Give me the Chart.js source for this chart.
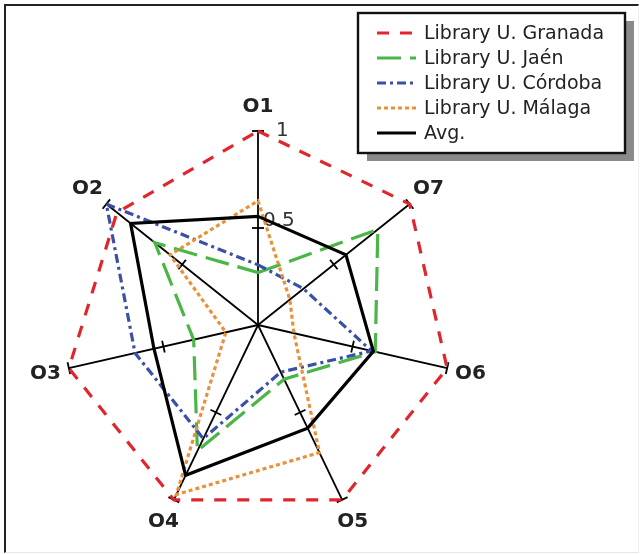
<!DOCTYPE html>
<html>
<head>
<meta charset="utf-8">
<script src="https://cdn.jsdelivr.net/npm/chart.js@4.4.1/dist/chart.umd.min.js"></script>
<style>
  html, body { margin: 0; padding: 0; background: #fff; }
  #wrap { position: relative; width: 642px; height: 554px; }
  #frame {
    position: absolute; left: 4px; top: 4px; width: 632px; height: 546px;
    border-left: 2px solid #222; border-top: 2px solid #222;
    border-right: 1px solid #f0f0f0; border-bottom: 1px solid #e8e8e8;
  }
  #radar { position: absolute; left: 0; top: 0; }
</style>
</head>
<body>
<div id="wrap">
  <div id="frame"></div>
  <canvas id="radar" width="642" height="554"></canvas>
</div>
<script>
// objetivos, en sentido horario desde arriba
const objetivos = ['O1', 'O7', 'O6', 'O5', 'O4', 'O3', 'O2'];
const marcas = [0.5, 1];

const granada = [1.00, 1.00, 1.00, 1.00, 1.00, 1.00, 0.93];
const jaen    = [0.27, 0.79, 0.62, 0.31, 0.72, 0.34, 0.68];
const cordoba = [0.31, 0.30, 0.60, 0.27, 0.65, 0.65, 1.00];
const malaga  = [0.64, 0.21, 0.19, 0.73, 0.97, 0.17, 0.58];
const media   = [0.56, 0.58, 0.61, 0.59, 0.86, 0.55, 0.84];

const FONT = '"DejaVu Sans", Verdana, sans-serif';

function serie(label, data, color, dash, order) {
    return {
        label, data,
        borderColor: color, backgroundColor: color,
        borderWidth: 3.2, borderDash: dash,
        borderJoinStyle: 'miter',
        pointRadius: 0, pointHoverRadius: 0,
        fill: false, tension: 0, order
    };
}

// marcas perpendiculares en cada eje y etiquetas
const ejes = {
    id: 'ejes',
    beforeDatasetsDraw(chart) {
        const r = chart.scales.r;
        const ctx = chart.ctx;
        ctx.save();
        ctx.strokeStyle = '#000';
        ctx.lineWidth = 1.8;
        for (let i = 0; i < objetivos.length; i++) {
            const a = r.getIndexAngle(i);
            const px = Math.cos(a), py = Math.sin(a);
            marcas.forEach(v => {
                const p = r.getPointPosition(i, r.getDistanceFromCenterForValue(v));
                ctx.beginPath();
                ctx.moveTo(p.x - px * 6, p.y - py * 6);
                ctx.lineTo(p.x + px * 6, p.y + py * 6);
                ctx.stroke();
            });
        }
        // valores del eje O1
        ctx.fillStyle = '#333';
        ctx.font = '20px ' + FONT;
        ctx.textAlign = 'left';
        ctx.textBaseline = 'alphabetic';
        const off = [[5, -2], [18, 5]];
        marcas.forEach((v, k) => {
            const p = r.getPointPosition(0, r.getDistanceFromCenterForValue(v));
            ctx.fillText(String(v), p.x + off[k][0], p.y + off[k][1]);
        });
        // nombres de los objetivos
        ctx.fillStyle = '#222';
        ctx.font = 'bold 20px ' + FONT;
        ctx.textAlign = 'center';
        ctx.textBaseline = 'middle';
        objetivos.forEach((lab, i) => {
            const p = r.getPointPosition(i, r.drawingArea + 24);
            ctx.fillText(lab, p.x, p.y);
        });
        ctx.restore();
    }
};

// leyenda con caja y sombra
const leyenda = {
    id: 'leyenda',
    afterDraw(chart) {
        const ctx = chart.ctx;
        const x = 358, y = 13, w = 267, h = 140;
        ctx.save();
        ctx.fillStyle = '#8a8a8a';
        ctx.fillRect(x + 9, y + 8, w, h);
        ctx.fillStyle = '#fff';
        ctx.fillRect(x, y, w, h);
        ctx.strokeStyle = '#111';
        ctx.lineWidth = 2.4;
        ctx.strokeRect(x, y, w, h);
        ctx.font = '19px ' + FONT;
        ctx.textBaseline = 'middle';
        ctx.textAlign = 'left';
        chart.data.datasets.forEach((ds, i) => {
            const yy = y + 20 + i * 25;
            ctx.strokeStyle = ds.borderColor;
            ctx.lineWidth = ds.borderWidth;
            ctx.setLineDash(ds.borderDash || []);
            ctx.beginPath();
            ctx.moveTo(x + 19, yy);
            ctx.lineTo(x + 58, yy);
            ctx.stroke();
            ctx.setLineDash([]);
            ctx.fillStyle = '#222';
            ctx.fillText(ds.label, x + 66, yy + 1);
        });
        ctx.restore();
    }
};

new Chart(document.getElementById('radar'), {
    type: 'radar',
    data: {
        labels: objetivos,
        datasets: [
            serie('Library U. Granada', granada, '#e0262c', [12, 11], 5),
            serie('Library U. Jaén', jaen, '#4bb648', [24, 9], 4),
            serie('Library U. Córdoba', cordoba, '#3a4fa6', [9, 4, 3, 4], 3),
            serie('Library U. Málaga', malaga, '#e8903a', [4, 3], 2),
            serie('Avg.', media, '#000000', [], 1)
        ]
    },
    options: {
        responsive: false,
        animation: false,
        layout: { padding: { left: 64, top: 131, right: 190, bottom: 35 } },
        plugins: { legend: { display: false }, tooltip: { enabled: false } },
        scales: {
            r: {
                min: 0, max: 1,
                ticks: { display: false, stepSize: 0.5 },
                grid: { display: false },
                angleLines: { display: true, color: '#000', lineWidth: 1.8 },
                pointLabels: { display: false }
            }
        }
    },
    plugins: [ejes, leyenda]
});
</script>
</body>
</html>
